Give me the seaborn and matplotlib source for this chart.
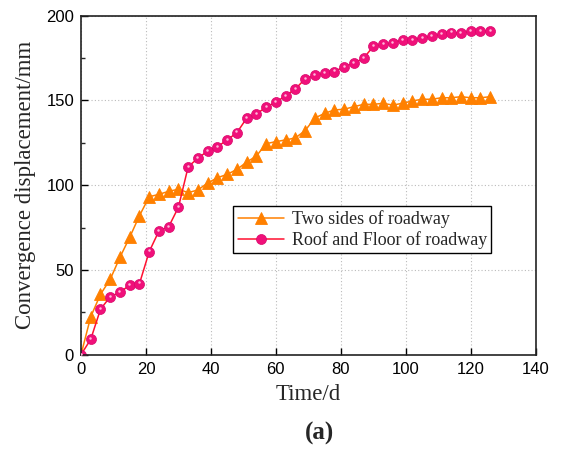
import numpy as np
import pandas as pd
import matplotlib
matplotlib.use("Agg")
import matplotlib.pyplot as plt
from matplotlib.ticker import MultipleLocator
from matplotlib.transforms import offset_copy
import seaborn as sns

# Monitoring days (every 3 days)
days = list(range(0, 127, 3))

# Convergence of the two sidewalls (mm)
two_sides = [0, 22.4, 35.6, 44.5, 57.5, 69.3, 82.0, 93.2, 94.6, 96.4, 97.6,
             95.6, 97.2, 101.3, 104.4, 106.4, 109.3, 113.6, 117.2, 124.5, 125.7,
             126.7, 127.9, 132.2, 139.6, 142.4, 144.4, 144.8, 146.3, 147.7, 147.7,
             148.3, 147.3, 148.3, 149.7, 150.7, 150.7, 151.6, 151.6, 152.2, 151.6,
             151.6, 152.2]

# Convergence between roof and floor (mm)
roof_floor = [0, 9.1, 26.8, 34.2, 36.8, 41.1, 41.9, 60.8, 73.0, 75.5, 87.0,
              110.9, 115.9, 120.2, 122.7, 126.7, 131.0, 139.5, 141.9, 146.2, 148.9,
              152.8, 156.8, 162.7, 164.8, 166.0, 167.0, 169.9, 171.9, 174.9, 181.9,
              183.1, 183.9, 185.8, 185.8, 186.8, 187.8, 189.0, 190.0, 189.8, 190.8,
              190.8, 190.8]

series_labels = ["Two sides of roadway", "Roof and Floor of roadway"]
x_ticks = [0, 20, 40, 60, 80, 100, 120, 140]
y_ticks = [0, 50, 100, 150, 200]

sns.set_style("ticks")
serif = ["Liberation Serif", "DejaVu Serif"]
sans = ["Liberation Sans", "DejaVu Sans"]
plt.rcParams["font.family"] = sans

fig = plt.figure(figsize=(5.61, 4.49), dpi=100)
ax = fig.add_axes([81 / 561, 1 - 354.7 / 449, (535.7 - 81) / 561, (354.7 - 15.7) / 449])

df = pd.DataFrame({"day": days, "sides": two_sides, "roof": roof_floor})

orange = "#FF8000"
magenta = "#F0107A"

sns.lineplot(data=df, x="day", y="sides", ax=ax, color=orange, lw=1.1,
             marker="^", markersize=8.5, markerfacecolor=orange,
             markeredgecolor=orange, markeredgewidth=0.6, label=series_labels[0])
sns.lineplot(data=df, x="day", y="roof", ax=ax, color="#FF1030", lw=1.1,
             marker="o", markersize=7.2, markerfacecolor=magenta,
             markeredgecolor="#D8086A", markeredgewidth=0.5, label=series_labels[1])

# small specular highlight on the spherical markers
hl = offset_copy(ax.transData, fig=fig, x=-0.5, y=1.2, units="dots")
ax.plot(df["day"], df["roof"], ls="none", marker="o", markersize=1.8,
        markerfacecolor="#FFB8DA", markeredgecolor="none", transform=hl, zorder=3)

ax.set_xlim(0, 140)
ax.set_ylim(0, 200)
ax.set_xticks(x_ticks)
ax.set_yticks(y_ticks)
ax.yaxis.set_minor_locator(MultipleLocator(25))
ax.tick_params(axis="both", which="major", direction="in", length=5, width=1.0,
               labelsize=12, colors="black", pad=5)
ax.tick_params(axis="y", which="minor", direction="in", length=3, width=1.0)
ax.tick_params(top=False, right=False)

for s in ax.spines.values():
    s.set_visible(True)
    s.set_linewidth(1.2)
    s.set_color("#222222")

ax.grid(True, which="major", color="#BBBBBB", lw=0.8, ls=(0, (1, 2)))
ax.set_axisbelow(True)

ax.set_xlabel("Time/d", fontfamily=serif, fontsize=16.5, labelpad=5)
ax.set_ylabel("Convergence displacement/mm", fontfamily=serif, fontsize=16.5, labelpad=7)

leg = ax.legend(loc="upper left", bbox_to_anchor=((233 - 81) / 454.7, 1 - (206 - 15.7) / 339),
                prop={"family": serif, "size": 13}, frameon=True, fancybox=False,
                edgecolor="black", framealpha=1, borderpad=0.25, labelspacing=0.15,
                handlelength=2.6, handletextpad=0.4, borderaxespad=0)
leg.get_frame().set_linewidth(1.0)

fig.text(320 / 561, 1 - 433 / 449, "(a)", fontfamily=serif, fontsize=18,
         fontweight="bold", ha="center", va="center")

fig.savefig("out.png", dpi=100)
